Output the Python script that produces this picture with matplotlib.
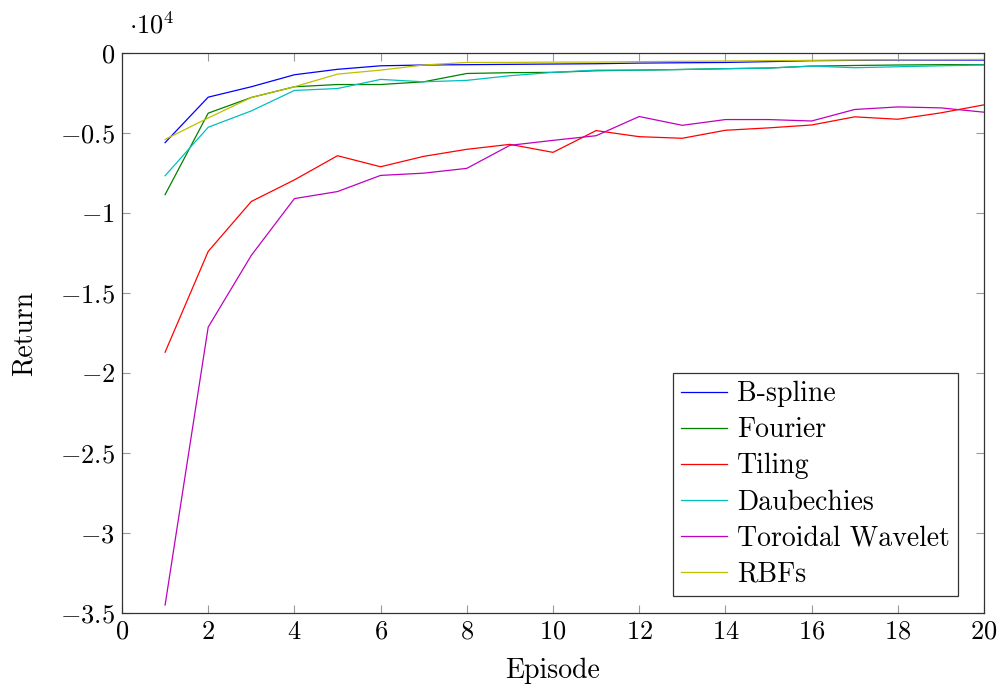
import matplotlib
matplotlib.use("Agg")
import matplotlib.pyplot as plt
from matplotlib.ticker import FuncFormatter, MultipleLocator

plt.rcParams['font.family'] = 'serif'
plt.rcParams['font.serif'] = ['cmr10']
plt.rcParams['mathtext.fontset'] = 'cm'
plt.rcParams['axes.unicode_minus'] = False

# Returns per episode, in units of 1e4
episodes = list(range(1, 21))
bspline = [-0.56, -0.276, -0.211, -0.136, -0.102, -0.080, -0.075, -0.073, -0.071, -0.069,
           -0.067, -0.063, -0.061, -0.059, -0.054, -0.048, -0.046, -0.044, -0.044, -0.044]
fourier = [-0.885, -0.376, -0.278, -0.211, -0.197, -0.197, -0.180, -0.128, -0.123, -0.121,
           -0.111, -0.107, -0.103, -0.098, -0.094, -0.082, -0.078, -0.075, -0.073, -0.073]
tiling = [-1.87, -1.24, -0.928, -0.793, -0.642, -0.711, -0.646, -0.602, -0.571, -0.621,
          -0.485, -0.523, -0.533, -0.483, -0.468, -0.450, -0.399, -0.414, -0.374, -0.324]
daubechies = [-0.767, -0.464, -0.362, -0.234, -0.222, -0.165, -0.180, -0.171, -0.142, -0.121,
              -0.107, -0.107, -0.103, -0.098, -0.094, -0.082, -0.092, -0.086, -0.080, -0.075]
toroidal = [-3.45, -1.713, -1.265, -0.910, -0.866, -0.765, -0.751, -0.721, -0.577, -0.546,
            -0.517, -0.397, -0.452, -0.416, -0.416, -0.425, -0.353, -0.337, -0.343, -0.370]
rbfs = [-0.54, -0.406, -0.278, -0.211, -0.132, -0.107, -0.075, -0.059, -0.059, -0.057,
        -0.057, -0.054, -0.052, -0.050, -0.048, -0.046, -0.044, -0.042, -0.041, -0.040]

series = [
    ("B-spline", bspline, "#0000ff"),
    ("Fourier", fourier, "#008000"),
    ("Tiling", tiling, "#ff0000"),
    ("Daubechies", daubechies, "#00bfbf"),
    ("Toroidal Wavelet", toroidal, "#bf00bf"),
    ("RBFs", rbfs, "#bfbf00"),
]

fig = plt.figure(figsize=(10.01, 6.88), dpi=100)
ax = fig.add_axes([122 / 1001, 1 - 613 / 688, (984 - 122) / 1001, (613 - 53) / 688])

for name, vals, col in series:
    ax.plot(episodes, vals, color=col, lw=0.9, label=name)

ax.set_xlim(0, 20)
ax.set_ylim(-3.5, 0)
ax.xaxis.set_major_locator(MultipleLocator(2))
ax.yaxis.set_major_locator(MultipleLocator(0.5))

def fmt(v, pos):
    if abs(v) < 1e-9:
        return r'$0$'
    return r'$%g$' % v

ax.xaxis.set_major_formatter(FuncFormatter(fmt))
ax.yaxis.set_major_formatter(FuncFormatter(fmt))
ax.tick_params(direction='in', top=True, right=True, length=6, width=0.8,
               color='#999999', labelsize=19, pad=5)
for sp in ax.spines.values():
    sp.set_color('#333333')
    sp.set_linewidth(0.9)

ax.set_xlabel('Episode', fontsize=20, labelpad=10)
ax.set_ylabel('Return', fontsize=20, labelpad=16)
ax.text(0.008, 1.025, r'$\cdot 10^4$', transform=ax.transAxes, fontsize=19,
        ha='left', va='bottom')

leg = ax.legend(loc='lower right', bbox_to_anchor=(0.9698, 0.0304), borderaxespad=0,
                fontsize=20, fancybox=False, framealpha=1,
                edgecolor='#333333', handlelength=1.65, handletextpad=0.35,
                labelspacing=0.35, borderpad=0.3)
leg.get_frame().set_linewidth(0.9)

fig.savefig('out.png', dpi=100)
